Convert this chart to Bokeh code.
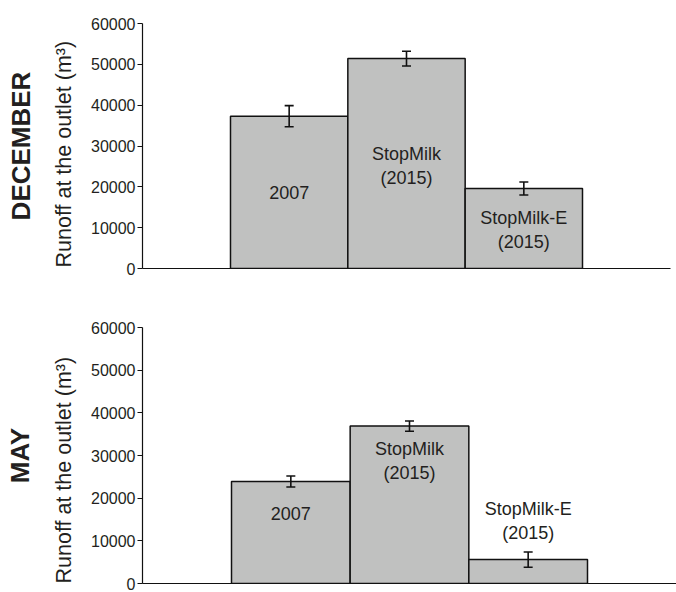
from bokeh.plotting import figure
from bokeh.layouts import column
from bokeh.models import (ColumnDataSource, Whisker, TeeHead, Range1d, FixedTicker,
                          BasicTickFormatter, Title)
from bokeh.core.properties import value
from bokeh.embed import file_html
from bokeh.resources import INLINE

categories = ["2007", "StopMilk\n(2015)", "StopMilk-E\n(2015)"]
dec_runoff = [37300, 51400, 19600]
dec_err = [2600, 1800, 1600]
may_runoff = [23900, 36900, 5600]
may_err = [1300, 1200, 1800]
dec_label_y = [18600, 25200, 9400]
may_label_y = [16300, 28600, 14750]
y_ticks = [0, 10000, 20000, 30000, 40000, 50000, 60000]
y_title = "Runoff at the outlet (m\u00b3)"

FONT = "Liberation Sans"
TXT = "#231f20"


def make_panel(month, runoff, err, label_y, width, height, bl, br, bt, bb,
               label_standoff, label_offset, title_standoff):
    xs = list(range(1, len(categories) + 1))
    p = figure(width=width, height=height, output_backend="svg", toolbar_location=None,
               x_range=Range1d(-0.25, 4.25), y_range=Range1d(0, 60000), min_border=0,
               min_border_left=bl, min_border_right=br, min_border_top=bt, min_border_bottom=bb)
    p.outline_line_color = None
    p.grid.visible = False
    p.background_fill_color = "white"
    p.border_fill_color = "white"

    src = ColumnDataSource(dict(x=xs, top=runoff,
                                upper=[v + e for v, e in zip(runoff, err)],
                                lower=[v - e for v, e in zip(runoff, err)],
                                ly=label_y, lab=categories))
    p.vbar(x="x", top="top", width=1, source=src, fill_color="#c0c1c0",
           line_color="#111111", line_width=1.5)
    p.text(x="x", y="ly", text="lab", source=src, text_align="center",
           text_baseline="middle", text_font=value(FONT), text_font_size=value("18px"),
           text_color=TXT, text_line_height=1.2)
    w = Whisker(base="x", upper="upper", lower="lower", source=src, level="annotation",
                line_color="#111111", line_width=1.6,
                upper_head=TeeHead(size=9, line_color="#111111", line_width=1.6),
                lower_head=TeeHead(size=9, line_color="#111111", line_width=1.6))
    p.add_layout(w)

    ya = p.yaxis[0]
    ya.ticker = FixedTicker(ticks=y_ticks)
    ya.formatter = BasicTickFormatter(use_scientific=False)
    ya.minor_tick_line_color = None
    ya.major_tick_in = 0
    ya.major_tick_out = 5
    ya.major_tick_line_color = "#111111"
    ya.axis_line_color = "#111111"
    ya.axis_line_width = 1.2
    ya.major_label_standoff = 2
    ya.major_label_text_font = FONT
    ya.major_label_text_font_size = "16px"
    ya.major_label_text_color = TXT

    xa = p.xaxis[0]
    xa.ticker = FixedTicker(ticks=[])
    xa.minor_tick_line_color = None
    xa.major_tick_line_color = None
    xa.axis_line_color = "#111111"
    xa.axis_line_width = 1.2

    lt = Title(text=y_title, align="left", offset=label_offset, text_font=FONT,
               text_font_size="21.5px", text_font_style="normal", text_color=TXT,
               standoff=label_standoff)
    p.add_layout(lt, "left")
    t = Title(text=month, align="center", text_font=FONT, text_font_size="26px",
              text_font_style="bold", text_color=TXT, standoff=title_standoff)
    p.add_layout(t, "left")
    return p


p1 = make_panel("DECEMBER", dec_runoff, dec_err, dec_label_y, 676, 298, 142, 6, 23, 30,
                26, 1, 1)
p2 = make_panel("MAY", may_runoff, may_err, may_label_y, 682, 294, 139, 6, 29, 9,
                26, 0, 3)

layout = column(p1, p2, spacing=0)
open("out.html", "w").write(file_html(layout, INLINE))
